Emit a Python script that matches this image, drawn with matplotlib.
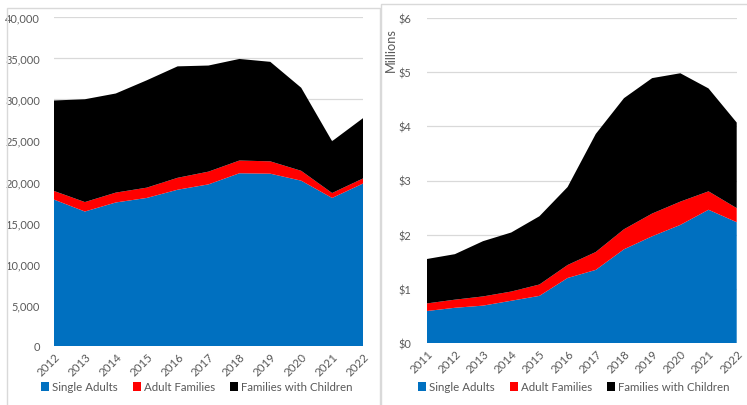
import matplotlib
matplotlib.use("Agg")
import matplotlib.pyplot as plt
from matplotlib.patches import Rectangle
from matplotlib.ticker import FuncFormatter, MultipleLocator

# Households served, by household type
years_hh = [2012, 2013, 2014, 2015, 2016, 2017, 2018, 2019, 2020, 2021, 2022]
hh_single = [17800, 16350, 17450, 18000, 19000, 19650, 21000, 20950, 20100, 18000, 19750]
hh_adult_fam = [1050, 1150, 1200, 1250, 1450, 1550, 1550, 1500, 1200, 600, 620]
hh_fam_child = [11000, 12500, 12050, 13050, 13550, 12900, 12350, 12100, 10100, 6300, 7330]

# Spending by household type, $ millions
years_sp = [2011, 2012, 2013, 2014, 2015, 2016, 2017, 2018, 2019, 2020, 2021, 2022]
sp_single = [0.59, 0.65, 0.69, 0.78, 0.87, 1.20, 1.35, 1.73, 1.97, 2.18, 2.46, 2.23]
sp_adult_fam = [0.14, 0.15, 0.17, 0.17, 0.21, 0.24, 0.33, 0.37, 0.42, 0.43, 0.34, 0.26]
sp_fam_child = [0.82, 0.84, 1.02, 1.09, 1.26, 1.44, 2.18, 2.42, 2.50, 2.37, 1.90, 1.58]

series_names = ["Single Adults", "Adult Families", "Families with Children"]
colors = ["#0070C0", "#FF0000", "#000000"]

plt.rcParams["font.family"] = ["Lato", "DejaVu Sans"]
TXT = "#595959"
GRID = "#D9D9D9"
FS_Y = 7.9
FS_X = 8.3
FS_LEG = 8.3

W, H = 747, 406
fig = plt.figure(figsize=(W / 100, H / 100), dpi=100)

# panel frames
def frame(x0, y0, x1, y1):
    fig.patches.append(Rectangle((x0 / W, 1 - y1 / H), (x1 - x0) / W, (y1 - y0) / H,
                                 transform=fig.transFigure, fill=False,
                                 edgecolor=GRID, linewidth=1.0))

frame(7, 9, 380, 420)
frame(381, 5, 760, 420)


def px_axes(x0, y0, x1, y1):
    return fig.add_axes([x0 / W, 1 - y1 / H, (x1 - x0) / W, (y1 - y0) / H])


def style(ax, years):
    for s in ax.spines.values():
        s.set_visible(False)
    ax.grid(axis="y", color=GRID, linewidth=0.9)
    ax.set_axisbelow(True)
    ax.set_xlim(years[0], years[-1])
    ax.set_xticks(years)
    ax.set_xticklabels([str(y) for y in years], rotation=45, ha="right",
                       rotation_mode="anchor", fontsize=FS_X, color=TXT)
    ax.tick_params(axis="both", length=0, colors=TXT)
    ax.tick_params(axis="y", labelsize=FS_Y)
    ax.tick_params(axis="x", pad=3)


def legend(ax, cx):
    ax.legend(loc="center", bbox_to_anchor=(cx / W, 1 - 388 / H),
              bbox_transform=fig.transFigure, ncol=3, frameon=False, fontsize=FS_LEG,
              handlelength=0.7, handleheight=0.7, handletextpad=0.25,
              columnspacing=1.3, labelcolor=TXT, borderpad=0)


# left: households
ax1 = px_axes(54, 18, 363, 347)
ax1.stackplot(years_hh, hh_single, hh_adult_fam, hh_fam_child, colors=colors,
              labels=series_names, linewidth=0)
style(ax1, years_hh)
ax1.set_ylim(0, 40000)
ax1.yaxis.set_major_locator(MultipleLocator(5000))
ax1.yaxis.set_major_formatter(FuncFormatter(lambda v, p: f"{int(v):,}"))
ax1.tick_params(axis="y", pad=10)
legend(ax1, 197)

# right: spending
ax2 = px_axes(426.7, 19, 736.7, 344)
ax2.stackplot(years_sp, sp_single, sp_adult_fam, sp_fam_child, colors=colors,
              labels=series_names, linewidth=0)
style(ax2, years_sp)
ax2.set_ylim(0, 6)
ax2.yaxis.set_major_locator(MultipleLocator(1))
ax2.yaxis.set_major_formatter(FuncFormatter(lambda v, p: f"${int(v)}"))
ax2.tick_params(axis="y", pad=11)
fig.text(391 / W, 1 - 50 / H, "Millions", rotation=90, ha="center", va="center",
         fontsize=9.2, color=TXT)
legend(ax2, 574)

fig.savefig("out.png", dpi=100)
